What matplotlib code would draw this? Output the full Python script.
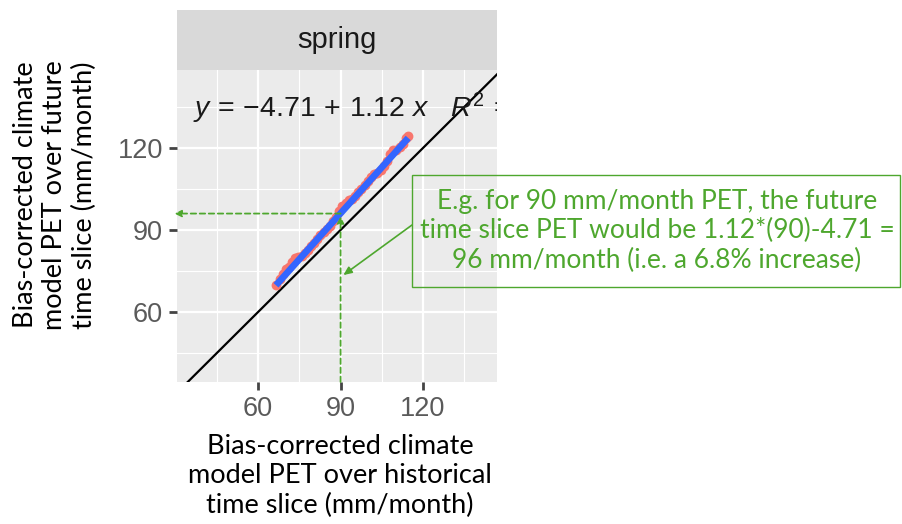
import numpy as np
import matplotlib.pyplot as plt
from matplotlib.patches import Rectangle

# PET over historical (x) and future (y) time slices, mm/month
hist_pet = [66.5, 67.8, 69.0, 70.1, 71.3, 72.4, 73.5, 74.6, 75.8, 76.9, 78.0,
            79.2, 80.3, 81.5, 82.6, 83.8, 85.0, 86.1, 87.3, 88.4, 89.6, 90.7,
            91.9, 93.0, 94.2, 95.3, 96.5, 97.6, 98.8, 100.0, 101.1, 102.3,
            103.4, 104.6, 105.7, 106.9, 108.0, 109.2, 110.3, 111.5, 112.6,
            113.8, 114.6]
fut_pet = [69.8, 71.9, 73.8, 75.6, 76.5, 78.2, 79.8, 80.1, 80.5, 81.4, 82.6,
           84.3, 85.1, 86.6, 88.0, 89.2, 90.3, 91.4, 93.4, 94.9, 96.8, 98.9,
           99.9, 100.8, 101.5, 102.6, 103.8, 104.9, 106.5, 107.9, 109.2, 110.3,
           110.9, 112.0, 113.5, 115.1, 117.9, 119.4, 119.3, 120.2, 121.3,
           123.6, 124.5]
intercept, slope = -4.71, 1.12
example_x = 90
example_y = 96
ticks = [60, 90, 120]
minor_ticks = [45, 75, 105, 135]

green = '#4EA72E'
plt.rcParams['mathtext.fontset'] = 'custom'
plt.rcParams['mathtext.rm'] = 'Liberation Sans'
plt.rcParams['mathtext.it'] = 'Liberation Sans:italic'

W, H = 903, 524
fig = plt.figure(figsize=(W / 100, H / 100), dpi=100)

def px(l, t, r, b):
    return [l / W, 1 - b / H, (r - l) / W, (b - t) / H]

ax = fig.add_axes(px(177, 70, 497, 382))
ax.set_facecolor('#EBEBEB')
ax.set_xlim(30.5, 146.9)
ax.set_ylim(34.4, 148.5)
for s in ax.spines.values():
    s.set_visible(False)
ax.set_xticks(ticks)
ax.set_yticks(ticks)
ax.set_xticks(minor_ticks, minor=True)
ax.set_yticks(minor_ticks, minor=True)
ax.grid(True, which='major', color='white', lw=1.6)
ax.grid(True, which='minor', color='white', lw=0.8)
ax.set_axisbelow(True)
ax.tick_params(which='major', length=6, width=2, color='#444444',
               labelsize=19.5, labelcolor='#5A5A5A', pad=4)
ax.tick_params(which='minor', length=0)
for lab in ax.get_xticklabels() + ax.get_yticklabels():
    lab.set_family('Liberation Sans')

lims = np.array([0, 200])
ax.plot(lims, lims, color='black', lw=1.6, zorder=2)
ax.scatter(hist_pet, fut_pet, s=50, color='#F8766D', zorder=3, lw=0)
xs = np.array([hist_pet[0], hist_pet[-1]])
ax.plot(xs, intercept + slope * xs, color='#3366FF', lw=4.8, zorder=4,
        solid_capstyle='butt')

ax.text(36.5, 134.6, r'$y\,=\,{-}4.71\,+\,1.12\ x\ \ \ R^2\,=\,0.99$',
        fontsize=20.5, color='#1A1A1A', va='center', ha='left', clip_on=True)

# green guide lines
ax.annotate('', xy=(example_x, example_y - 1), xytext=(example_x, 34.4),
            arrowprops=dict(arrowstyle='-|>,head_length=0.4,head_width=0.2',
                            color=green, lw=1.3, ls=(0, (3, 2)),
                            shrinkA=0, shrinkB=0), zorder=5)
ax.annotate('', xy=(29.6, example_y), xytext=(example_x, example_y),
            arrowprops=dict(arrowstyle='-|>,head_length=0.4,head_width=0.2',
                            color=green, lw=1.3, ls=(0, (3, 2)),
                            shrinkA=0, shrinkB=0), annotation_clip=False,
            zorder=5)

# strip
sax = fig.add_axes(px(177, 10, 497, 70))
sax.set_facecolor('#D9D9D9')
sax.set_xticks([])
sax.set_yticks([])
for s in sax.spines.values():
    s.set_visible(False)
sax.text(0.5, 0.5, 'spring', fontsize=21, color='#1A1A1A', ha='center',
         va='center', family='Liberation Sans', transform=sax.transAxes)

# callout box
fig.add_artist(Rectangle((412 / W, 1 - 287 / H), 488 / W, 112 / H,
                         transform=fig.transFigure, fill=False,
                         edgecolor=green, lw=1))
fig.text(657 / W, 1 - 231 / H,
         'E.g. for 90 mm/month PET, the future\n'
         'time slice PET would be 1.12*(90)-4.71 =\n'
         '96 mm/month (i.e. a 6.8% increase)',
         fontsize=19, color=green, ha='center', va='center',
         family='Lato', linespacing=1.22)
ax.annotate('', xy=(91, 73.5), xytext=(412 / W, 1 - 225 / H),
            textcoords='figure fraction',
            arrowprops=dict(arrowstyle='-|>,head_length=0.5,head_width=0.22',
                            color=green, lw=1.2, shrinkA=0, shrinkB=0),
            zorder=6)

# axis titles
fig.text(55 / W, 1 - 195 / H,
         'Bias-corrected climate\nmodel PET over future\ntime slice (mm/month)',
         fontsize=19.5, rotation=90, ha='center', va='center', family='Lato',
         linespacing=1.22)
fig.text(340 / W, 1 - 476 / H,
         'Bias-corrected climate\nmodel PET over historical\ntime slice (mm/month)',
         fontsize=19.5, ha='center', va='center', family='Lato',
         linespacing=1.22)

fig.savefig('out.png', dpi=100)
